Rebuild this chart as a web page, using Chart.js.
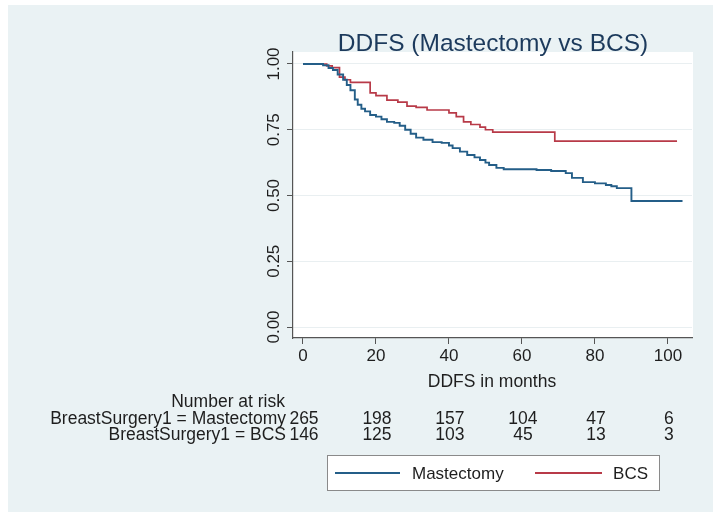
<!DOCTYPE html>
<html><head><meta charset="utf-8">
<script src="https://cdn.jsdelivr.net/npm/chart.js@4/dist/chart.umd.min.js"></script>
<style>
html,body{margin:0;padding:0;background:#fff;overflow:hidden;}
#wrap{position:absolute;left:0;top:0;width:713px;height:512px;}
canvas{display:block;}
</style></head><body>
<div id="wrap"><canvas id="c" width="713" height="512"></canvas></div>
<script>
// ---- data ----
const chartTitle = 'DDFS (Mastectomy vs BCS)';
const xTitle = 'DDFS in months';
const xTicks = [0, 20, 40, 60, 80, 100];
const yTicks = [0, 0.25, 0.5, 0.75, 1];
const yTickLabels = ['0.00', '0.25', '0.50', '0.75', '1.00'];
const seriesNames = ['Mastectomy', 'BCS'];

const mastTime = [0, 5.5, 7, 8.2, 9.5, 11, 12, 13, 14.2, 15, 16, 17, 18.4, 20, 21.5, 23, 25, 26.5, 28, 29.5, 31, 33, 35.5, 38, 40, 41, 43, 45, 47, 48.5, 50, 51, 53, 55, 64, 68, 72, 73.7, 76.7, 80, 83, 84.5, 86, 90, 104];
const mastSurv = [1, 0.995, 0.985, 0.977, 0.96, 0.94, 0.92, 0.90, 0.865, 0.845, 0.83, 0.82, 0.806, 0.80, 0.79, 0.78, 0.776, 0.765, 0.75, 0.735, 0.72, 0.712, 0.703, 0.70, 0.69, 0.68, 0.667, 0.654, 0.645, 0.635, 0.625, 0.616, 0.605, 0.60, 0.597, 0.593, 0.585, 0.567, 0.551, 0.546, 0.54, 0.535, 0.528, 0.479, 0.479];

const bcsTime = [0, 6.5, 8, 10, 11.5, 13, 18.4, 20, 23, 26, 28.5, 31, 34, 40, 42, 44, 46, 48.5, 50, 52, 69, 102.5];
const bcsSurv = [1, 0.993, 0.986, 0.95, 0.94, 0.93, 0.89, 0.88, 0.863, 0.855, 0.84, 0.835, 0.825, 0.814, 0.80, 0.78, 0.77, 0.76, 0.75, 0.741, 0.707, 0.707];

const riskHeader = 'Number at risk';
const riskLabels = ['BreastSurgery1 = Mastectomy', 'BreastSurgery1 = BCS'];
const riskTimes = [0, 20, 40, 60, 80, 100];
const mastRisk = [265, 198, 157, 104, 47, 6];
const bcsRisk = [146, 125, 103, 45, 13, 3];

// ---- style ----
const BLUE = '#245e88';
const RED = '#b83a48';
const FONT = '"Liberation Sans", Arial, Helvetica, sans-serif';
const TXT = '#1e1e1e';

const toPts = (t, s) => t.map((v, i) => ({x: v, y: s[i]}));

const decor = {
  id: 'decor',
  beforeDraw(chart) {
    const ctx = chart.ctx, a = chart.chartArea;
    ctx.save();
    ctx.fillStyle = '#ffffff';
    ctx.fillRect(0, 0, chart.width, chart.height);
    ctx.fillStyle = '#eaf2f4';
    ctx.fillRect(8, 5, chart.width - 8, chart.height - 5);
    ctx.fillStyle = '#ffffff';
    ctx.fillRect(a.left, a.top, a.right - a.left + 1, a.bottom - a.top);
    ctx.restore();
  },
  afterDraw(chart) {
    const ctx = chart.ctx;
    const xs = chart.scales.x, ys = chart.scales.y;
    ctx.save();
    // title
    ctx.fillStyle = '#1c3a5c';
    ctx.font = '24.5px ' + FONT;
    ctx.textAlign = 'center';
    ctx.textBaseline = 'alphabetic';
    ctx.fillText(chartTitle, 493, 51);
    // y tick labels (rotated)
    ctx.fillStyle = TXT;
    ctx.font = '17px ' + FONT;
    yTicks.forEach((v, i) => {
      ctx.save();
      ctx.translate(279, ys.getPixelForValue(v));
      ctx.rotate(-Math.PI / 2);
      ctx.textAlign = 'center';
      ctx.textBaseline = 'alphabetic';
      ctx.fillText(yTickLabels[i], 0, 0);
      ctx.restore();
    });
    ctx.font = '17.5px ' + FONT;
    // x title
    ctx.textAlign = 'center';
    ctx.fillText(xTitle, 492, 387);
    // number at risk
    ctx.textAlign = 'right';
    ctx.fillText(riskHeader, 285, 407);
    ctx.fillText(riskLabels[0], 286, 424);
    ctx.fillText(riskLabels[1], 286, 440);
    ctx.textAlign = 'center';
    riskTimes.forEach((t, i) => {
      const px = xs.getPixelForValue(t);
      ctx.fillText(String(mastRisk[i]), px + 1, 424);
      ctx.fillText(String(bcsRisk[i]), px + 1, 440);
    });
    // legend
    ctx.fillStyle = '#ffffff';
    ctx.fillRect(327, 455, 332, 35);
    ctx.strokeStyle = '#8a8a8a';
    ctx.lineWidth = 1;
    ctx.strokeRect(327.5, 455.5, 332, 35);
    ctx.lineWidth = 2;
    ctx.strokeStyle = BLUE;
    ctx.beginPath(); ctx.moveTo(335, 473); ctx.lineTo(400, 473); ctx.stroke();
    ctx.strokeStyle = RED;
    ctx.beginPath(); ctx.moveTo(535, 473); ctx.lineTo(602, 473); ctx.stroke();
    ctx.fillStyle = TXT;
    ctx.font = '17px ' + FONT;
    ctx.textAlign = 'left';
    ctx.fillText(seriesNames[0], 412, 479);
    ctx.textAlign = 'right';
    ctx.fillText(seriesNames[1], 648, 479);
    ctx.restore();
  }
};

new Chart(document.getElementById('c'), {
  type: 'line',
  data: {
    datasets: [
      {label: seriesNames[0], data: toPts(mastTime, mastSurv), borderColor: BLUE, borderWidth: 1.9, stepped: 'before', pointRadius: 0, fill: false},
      {label: seriesNames[1], data: toPts(bcsTime, bcsSurv), borderColor: RED, borderWidth: 1.7, stepped: 'before', pointRadius: 0, fill: false}
    ]
  },
  options: {
    responsive: false,
    animation: false,
    devicePixelRatio: 1,
    layout: {padding: {top: 52, right: 21, left: 0, bottom: 0}},
    plugins: {legend: {display: false}, tooltip: {enabled: false}, title: {display: false}},
    scales: {
      x: {
        type: 'linear', min: -2.74, max: 106.6,
        afterBuildTicks: s => { s.ticks = xTicks.map(v => ({value: v})); },
        afterFit: s => { s.height = 174; },
        grid: {drawOnChartArea: false, tickLength: 6, tickColor: '#555', tickWidth: 1},
        border: {color: '#555', width: 1.2},
        ticks: {color: TXT, font: {family: FONT, size: 17}, padding: 2, maxRotation: 0, autoSkip: false}
      },
      y: {
        type: 'linear', min: -0.0418, max: 1.0456,
        afterBuildTicks: s => { s.ticks = yTicks.map(v => ({value: v})); },
        afterFit: s => { s.width = 293; },
        grid: {color: '#e9eff1', lineWidth: 1, tickLength: 6, tickColor: '#555', tickWidth: 1},
        border: {color: '#555', width: 1.2},
        ticks: {display: false}
      }
    }
  },
  plugins: [decor]
});
</script>
</body></html>
